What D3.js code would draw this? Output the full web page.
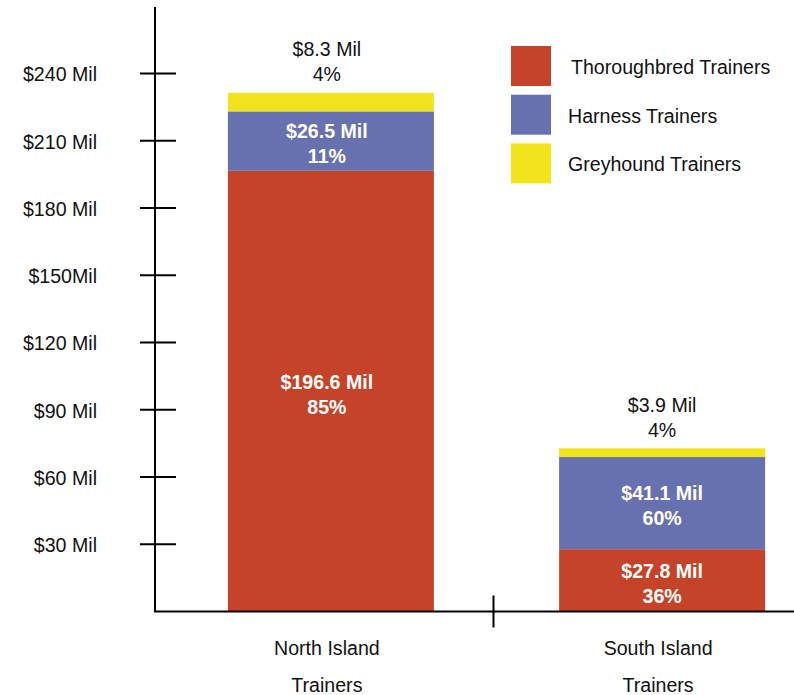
<!DOCTYPE html>
<html>
<head>
<meta charset="utf-8">
<script src="https://cdn.jsdelivr.net/npm/d3@7"></script>
<style>
  body { margin: 0; background: #fff; }
  svg { display: block; font-family: "Liberation Sans", Arial, Helvetica, sans-serif; }
</style>
</head>
<body>
<div id="chart"></div>
<script>
// data
const categories = ["North Island", "South Island"];
const categoryLines = [["North Island", "Trainers"], ["South Island", "Trainers"]];
const seriesNames = ["Thoroughbred Trainers", "Harness Trainers", "Greyhound Trainers"];
const thoroughbred = [196.6, 27.8];
const harness = [26.5, 41.1];
const greyhound = [8.3, 3.9];
const thoroughbredPct = ["85%", "36%"];
const harnessPct = ["11%", "60%"];
const greyhoundPct = ["4%", "4%"];
const tickValues = [30, 60, 90, 120, 150, 180, 210, 240];
const tickLabels = ["$30 Mil", "$60 Mil", "$90 Mil", "$120 Mil", "$150Mil", "$180 Mil", "$210 Mil", "$240 Mil"];

const colors = ["#c54328", "#6771b0", "#f2e41c"];
const width = 794, height = 695;
const fontSize = 19.6;

const svg = d3.select("#chart").append("svg")
    .attr("width", width)
    .attr("height", height)

// table for the stack
const table = categories.map((c, i) => ({
    cat: c,
    "Thoroughbred Trainers": thoroughbred[i],
    "Harness Trainers": harness[i],
    "Greyhound Trainers": greyhound[i]
}))
const pcts = [thoroughbredPct, harnessPct, greyhoundPct];
const vals = [thoroughbred, harness, greyhound];

const stacked = d3.stack().keys(seriesNames)(table);

const x = d3.scaleBand()
    .domain(categories)
    .range([155, 838])
    .paddingInner(0.378)
    .paddingOuter(0.22)

const y = d3.scaleLinear()
    .domain([0, 240])
    .range([611.5, 73.5])

// bars
stacked.forEach((layer, s) => {
    svg.append("g").selectAll("rect")
        .data(layer)
        .enter().append("rect")
        .attr("x", d => x(d.data.cat))
        .attr("y", d => y(d[1]))
        .attr("width", x.bandwidth())
        .attr("height", d => y(d[0]) - y(d[1]))
        .attr("fill", colors[s])
})

// labels inside (thoroughbred + harness), above (greyhound)
const fmt = v => "$" + v.toFixed(1) + " Mil";
stacked.forEach((layer, s) => {
    layer.forEach((d, i) => {
        const cx = x(d.data.cat) + x.bandwidth() / 2 - (i == 0 ? 4 : 0);
        const inside = s < 2;
        const mid = inside ? (y(d[0]) + y(d[1])) / 2 + 3 : y(d[1]) - 31;
        const g = svg.append("g")
            .attr("text-anchor", "middle")
            .attr("font-size", fontSize)
            .attr("fill", inside ? "#fff" : "#111")
            .attr("font-weight", inside ? "bold" : "normal")
        g.append("text").attr("x", cx).attr("y", mid - 12.5).attr("dy", "0.35em").text(fmt(vals[s][i]))
        g.append("text").attr("x", cx).attr("y", mid + 12.5).attr("dy", "0.35em").text(pcts[s][i])
    })
})

// y axis
svg.append("line")
    .attr("x1", 155).attr("x2", 155)
    .attr("y1", 7).attr("y2", y(0))
    .attr("stroke", "#000").attr("stroke-width", 2)

const ticks = svg.append("g").selectAll("g")
    .data(tickValues)
    .enter().append("g")

ticks.append("line")
    .attr("x1", 140).attr("x2", 176)
    .attr("y1", d => y(d)).attr("y2", d => y(d))
    .attr("stroke", "#000").attr("stroke-width", 2)

ticks.append("text")
    .attr("x", 97)
    .attr("y", d => y(d) + 1)
    .attr("dy", "0.35em")
    .attr("text-anchor", "end")
    .attr("font-size", fontSize)
    .attr("fill", "#111")
    .text((d, i) => tickLabels[i])

// baseline
svg.append("line")
    .attr("x1", 154).attr("x2", width)
    .attr("y1", y(0)).attr("y2", y(0))
    .attr("stroke", "#000").attr("stroke-width", 2)

// separator tick between categories
const sepX = x(categories[0]) + x.bandwidth() + x.step() * x.paddingInner() / 2 - 3;
svg.append("line")
    .attr("x1", sepX).attr("x2", sepX)
    .attr("y1", y(0) - 16).attr("y2", y(0) + 16)
    .attr("stroke", "#000").attr("stroke-width", 2)

// category labels
categories.forEach((c, i) => {
    const cx = x(c) + x.bandwidth() / 2 - 4;
    categoryLines[i].forEach((t, j) => {
        svg.append("text")
            .attr("x", cx)
            .attr("y", 648 + j * 37)
            .attr("dy", "0.35em")
            .attr("text-anchor", "middle")
            .attr("font-size", fontSize)
            .attr("fill", "#111")
            .text(t)
    })
})

// legend
const legend = svg.append("g").selectAll("g")
    .data(seriesNames)
    .enter().append("g")
    .attr("transform", (d, i) => `translate(511, ${46 + i * 48.7})`)

legend.append("rect")
    .attr("width", 40).attr("height", 40)
    .attr("fill", (d, i) => colors[i])

legend.append("text")
    .attr("x", (d, i) => i == 0 ? 60 : 57)
    .attr("y", 21)
    .attr("dy", "0.35em")
    .attr("font-size", fontSize)
    .attr("fill", "#111")
    .text(d => d)
</script>
</body>
</html>
